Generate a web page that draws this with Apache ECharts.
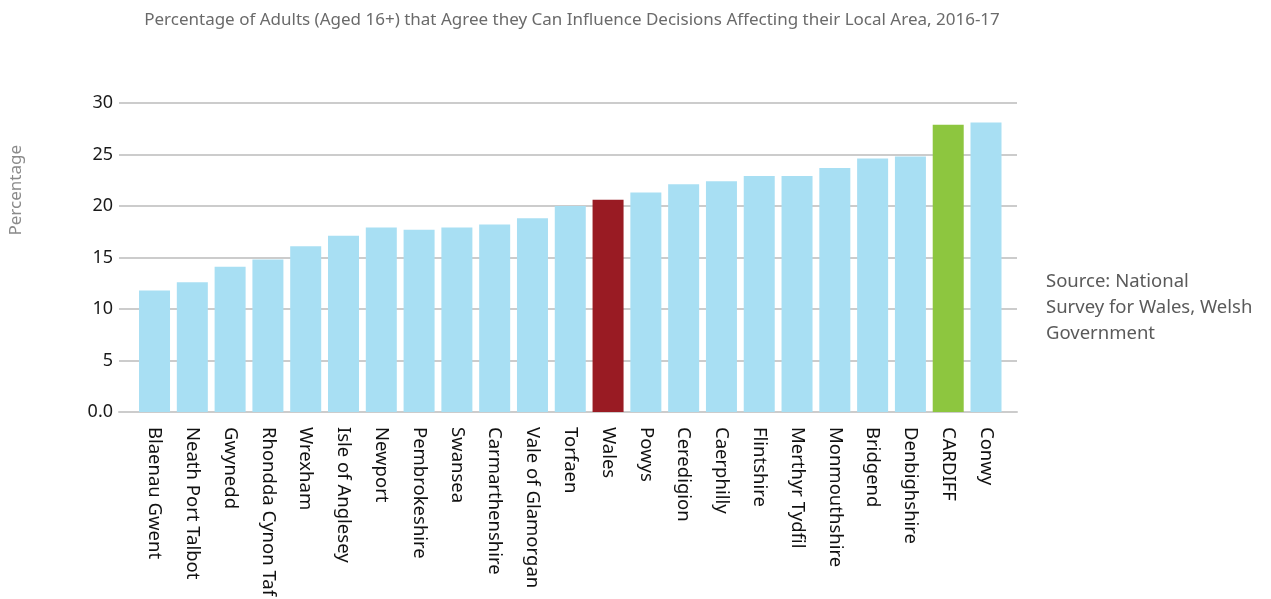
<!DOCTYPE html>
<html>
<head>
<meta charset="utf-8">
<script src="https://cdn.jsdelivr.net/npm/echarts@6/dist/echarts.min.js"></script>
<style>
	html,body{margin:0;padding:0;background:#fff;}
	#chart{width:1271px;height:599px;}
</style>
</head>
<body>
<div id="chart"></div>
<script>
// 各地区数据
var areas = ['Blaenau Gwent','Neath Port Talbot','Gwynedd','Rhondda Cynon Taf','Wrexham','Isle of Anglesey','Newport','Pembrokeshire','Swansea','Carmarthenshire','Vale of Glamorgan','Torfaen','Wales','Powys','Ceredigion','Caerphilly','Flintshire','Merthyr Tydfil','Monmouthshire','Bridgend','Denbighshire','CARDIFF','Conwy'];
var percentages = [11.8,12.6,14.1,14.8,16.1,17.1,17.9,17.7,17.9,18.2,18.8,20.0,20.6,21.3,22.1,22.4,22.9,22.9,23.7,24.6,24.8,27.9,28.1];
var yTicks = [0,5,10,15,20,25,30];

var baseColor = '#a8dff3';
var walesColor = '#991b23';
var cardiffColor = '#8dc63f';

var chart = echarts.init(document.getElementById('chart'));

var barData = [];
for (var i = 0; i < areas.length; i++) {
	var c = baseColor;
	if (areas[i] == 'Wales') c = walesColor;
	if (areas[i] == 'CARDIFF') c = cardiffColor;
	barData.push({ value: [i, percentages[i]], itemStyle: { color: c } });
}
var xPos = areas.map(function (a, i) { return i; });

var option = {
	animation: false,
	textStyle: { fontFamily: 'Noto Sans' },
	title: {
		text: 'Percentage of Adults (Aged 16+) that Agree they Can Influence Decisions Affecting their Local Area, 2016-17',
		left: 567,
		textAlign: 'center',
		top: 7,
		textStyle: { color: '#6a6a6a', fontWeight: 'normal', fontSize: 17, fontFamily: 'Noto Sans' }
	},
	graphic: [{
		type: 'text',
		left: 1046,
		top: 269,
		style: {
			text: 'Source: National\nSurvey for Wales, Welsh\nGovernment',
			fill: '#5a5a5a',
			font: '18.5px "Noto Sans"',
			lineHeight: 26
		}
	}, {
		// 纵轴标题
		type: 'text',
		left: 8,
		top: 145,
		rotation: Math.PI / 2,
		style: {
			text: 'Percentage',
			fill: '#8a8a8a',
			font: '17px "Noto Sans"'
		}
	}],
	grid: { left: 119, right: 254, top: 103, bottom: 185 },
	xAxis: {
		type: 'value',
		min: -0.94,
		max: 22.82,
		splitLine: { show: false },
		axisTick: { show: false },
		axisLine: { show: true, lineStyle: { color: '#cccccc', width: 2 } },
		axisLabel: {
			customValues: xPos,
			formatter: function (v) { return areas[v]; },
			rotate: -90,
			margin: 15,
			color: '#111',
			fontSize: 18.5
		}
	},
	yAxis: {
		type: 'value',
		min: 0,
		max: 30,
		interval: 5,
		axisLine: { show: false },
		axisTick: { show: false },
		axisLabel: {
			color: '#1a1a1a',
			fontSize: 18,
			margin: 6,
			formatter: function (v) { return v === 0 ? '0.0' : String(v); }
		},
		splitLine: { lineStyle: { color: '#cccccc', width: 2 } }
	},
	series: [{
		type: 'bar',
		barWidth: 31,
		data: barData
	}]
};
chart.setOption(option);
</script>
</body>
</html>
